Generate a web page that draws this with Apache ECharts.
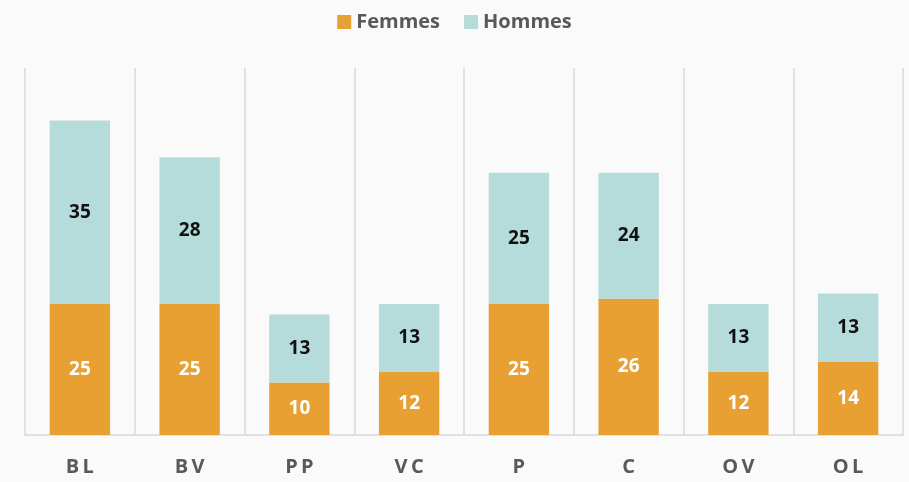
<!DOCTYPE html>
<html>
<head>
<meta charset="utf-8">
<script src="https://cdn.jsdelivr.net/npm/echarts@6/dist/echarts.min.js"></script>
<style>
  html, body { margin: 0; padding: 0; background: #fafafa; }
  #chart { width: 909px; height: 482px; }
</style>
</head>
<body>
<div id="chart"></div>
<script>
const categories = ["BL", "BV", "PP", "VC", "P", "C", "OV", "OL"];
const femmes = [25, 25, 10, 12, 25, 26, 12, 14];
const hommes = [35, 28, 13, 13, 25, 24, 13, 13];

const chart = echarts.init(document.getElementById("chart"));
const font = "'Open Sans', 'Noto Sans', sans-serif";
chart.setOption({
  backgroundColor: "#fafafa",
  animation: false,
  textStyle: { fontFamily: font },
  legend: {
    top: 7,
    left: "center",
    itemWidth: 14,
    itemHeight: 14,
    itemGap: 24,
    icon: "rect",
    textStyle: { fontSize: 20, fontWeight: "bold", color: "#595959", fontFamily: font },
    data: ["Femmes", "Hommes"]
  },
  grid: { left: 25, right: 6, top: 68, bottom: 47 },
  xAxis: {
    type: "category",
    data: categories,
    axisLine: { lineStyle: { color: "#d9d9d9", width: 1.5 } },
    axisTick: { show: false },
    splitLine: { show: true, lineStyle: { color: "#d9d9d9", width: 1.5 } },
    axisLabel: {
      margin: 22,
      fontSize: 20,
      fontWeight: "bold",
      color: "#595959",
      fontFamily: font,
      formatter: v => v.split("").join("\u2009")
    }
  },
  yAxis: {
    type: "value",
    min: 0,
    max: 70,
    show: false,
    splitLine: { show: false }
  },
  series: [
    {
      name: "Femmes",
      type: "bar",
      stack: "total",
      barWidth: "55%",
      data: femmes,
      itemStyle: { color: "#e8a033" },
      label: { show: true, position: "inside", color: "#ffffff", fontSize: 19, fontWeight: "bold", fontFamily: font }
    },
    {
      name: "Hommes",
      type: "bar",
      stack: "total",
      barWidth: "55%",
      data: hommes,
      itemStyle: { color: "#b5dcda" },
      label: { show: true, position: "inside", color: "#111111", fontSize: 19, fontWeight: "bold", fontFamily: font }
    }
  ]
});
</script>
</body>
</html>
